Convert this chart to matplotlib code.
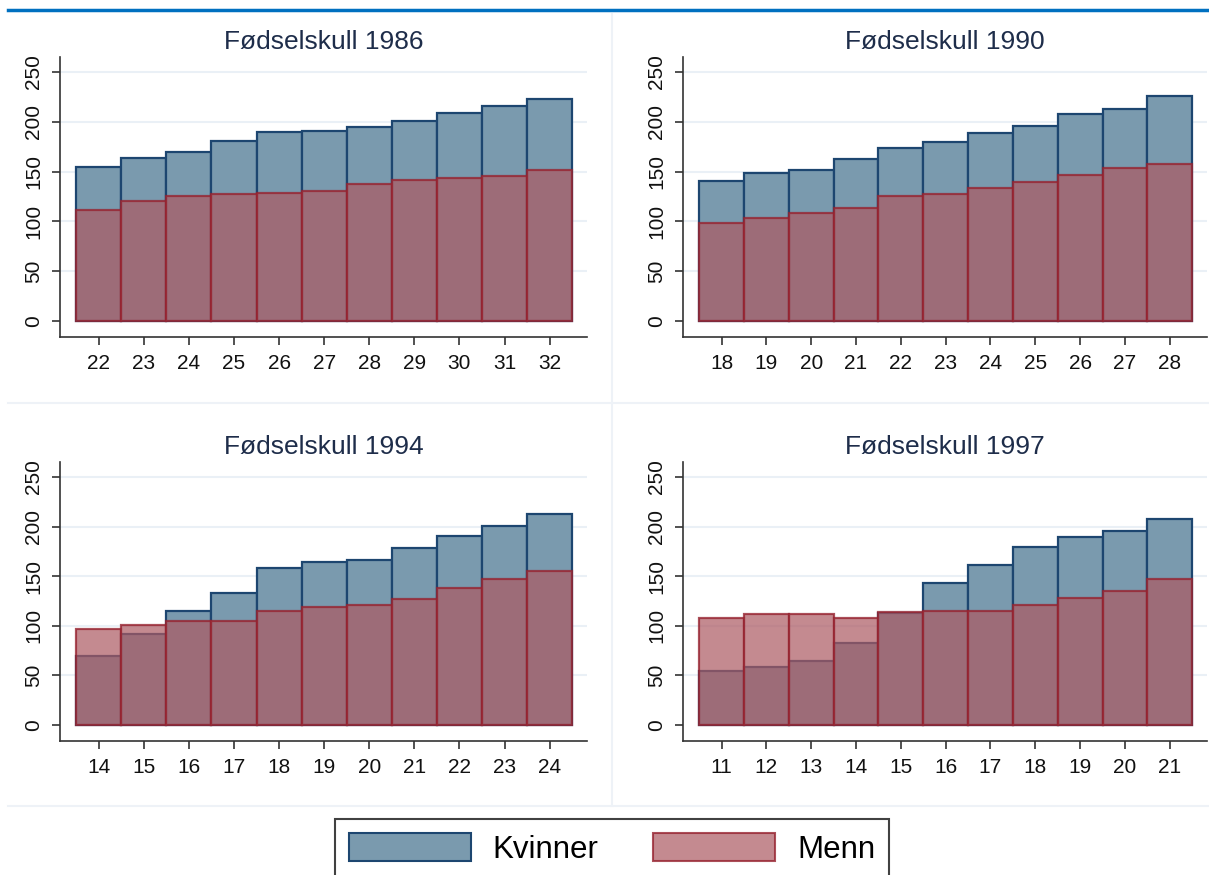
import numpy as np
import matplotlib
matplotlib.use('Agg')
import matplotlib.pyplot as plt
from matplotlib.lines import Line2D
from matplotlib.patches import Patch

plt.rcParams['font.family'] = ['Liberation Sans', 'DejaVu Sans']

# values
titles = ['Fødselskull 1986', 'Fødselskull 1990', 'Fødselskull 1994', 'Fødselskull 1997']
ages_1986 = list(range(22, 33))
ages_1990 = list(range(18, 29))
ages_1994 = list(range(14, 25))
ages_1997 = list(range(11, 22))

kvinner_1986 = [155, 164, 170, 181, 190, 191, 195, 201, 209, 216, 223]
menn_1986 = [111, 120, 126, 128, 129, 131, 138, 142, 144, 146, 152]

kvinner_1990 = [141, 149, 152, 163, 174, 180, 189, 196, 208, 213, 226]
menn_1990 = [98, 103, 108, 113, 126, 128, 134, 140, 147, 154, 158]

kvinner_1994 = [70, 92, 115, 133, 158, 164, 166, 178, 190, 201, 213]
menn_1994 = [97, 101, 105, 105, 115, 119, 121, 127, 138, 147, 155]

kvinner_1997 = [55, 59, 65, 83, 113, 143, 161, 179, 189, 196, 208]
menn_1997 = [108, 112, 112, 108, 114, 115, 115, 121, 128, 135, 147]

yticks = [0, 50, 100, 150, 200, 250]

kv_fill = '#7a9aae'
kv_edge = '#1d4670'
me_fill = (172/255, 90/255, 99/255, 0.71)
me_edge = (150/255, 35/255, 48/255, 0.8)

fig = plt.figure(figsize=(12.09, 8.75), dpi=100)

W, H = 1209.0, 875.0
# axes rectangles in pixels: left, top, right, bottom
rects = [(60, 57, 587, 337), (683, 57, 1207, 337),
         (60, 462, 587, 741), (683, 462, 1207, 741)]
panels = [(ages_1986, kvinner_1986, menn_1986),
          (ages_1990, kvinner_1990, menn_1990),
          (ages_1994, kvinner_1994, menn_1994),
          (ages_1997, kvinner_1997, menn_1997)]

for (l, t, r, b), (ages, kv, me), title in zip(rects, panels, titles):
    ax = fig.add_axes([l/W, 1-b/H, (r-l)/W, (b-t)/H])
    ages = np.array(ages)
    for y in yticks[1:]:
        ax.axhline(y, color='#eaf0f6', lw=1.5, zorder=0)
    ax.bar(ages, kv, width=1.0, color=kv_fill, edgecolor=kv_edge, linewidth=1.6, zorder=2)
    ax.bar(ages, me, width=1.0, color=me_fill, edgecolor=me_edge, linewidth=1.6, zorder=3)
    ax.set_xlim(ages[0] - 0.86, ages[-1] + 0.83)
    ax.set_ylim(-16, 265)
    ax.set_xticks(ages)
    ax.set_yticks(yticks)
    ax.set_yticklabels([str(v) for v in yticks], rotation=90, va='center')
    ax.tick_params(axis='both', labelsize=15, length=6, width=1.2,
                   color='#333333', labelcolor='#111111')
    ax.tick_params(axis='x', pad=6)
    ax.tick_params(axis='y', pad=6)
    for s in ['top', 'right']:
        ax.spines[s].set_visible(False)
    for s in ['left', 'bottom']:
        ax.spines[s].set_color('#333333')
        ax.spines[s].set_linewidth(1.2)
    ax.set_title(title, fontsize=19, color='#1e2d4a', pad=6)

# panel separators and top rule
fig.add_artist(Line2D([8/W, 1], [1-10/H, 1-10/H], color='#0070c0', lw=2.5))
fig.add_artist(Line2D([8/W, 1], [1-403/H, 1-403/H], color='#eef2f7', lw=1.5))
fig.add_artist(Line2D([8/W, 1], [1-806/H, 1-806/H], color='#eef2f7', lw=1.5))
fig.add_artist(Line2D([612/W, 612/W], [1-806/H, 1-14/H], color='#eef2f7', lw=1.5))

handles = [Patch(facecolor=kv_fill, edgecolor=kv_edge, linewidth=1.5, label='Kvinner'),
           Patch(facecolor=me_fill, edgecolor=me_edge, linewidth=1.5, label='Menn')]
leg = fig.legend(handles=handles, loc='upper center', bbox_to_anchor=(612/W, 1-819/H),
                 ncol=2, fontsize=22.5, frameon=True, fancybox=False, edgecolor='#111111',
                 handlelength=3.9, handleheight=1.0, handletextpad=0.7,
                 columnspacing=1.75, borderpad=0.45, borderaxespad=0)
leg.get_frame().set_linewidth(1.5)

fig.savefig('out.png', dpi=100)
